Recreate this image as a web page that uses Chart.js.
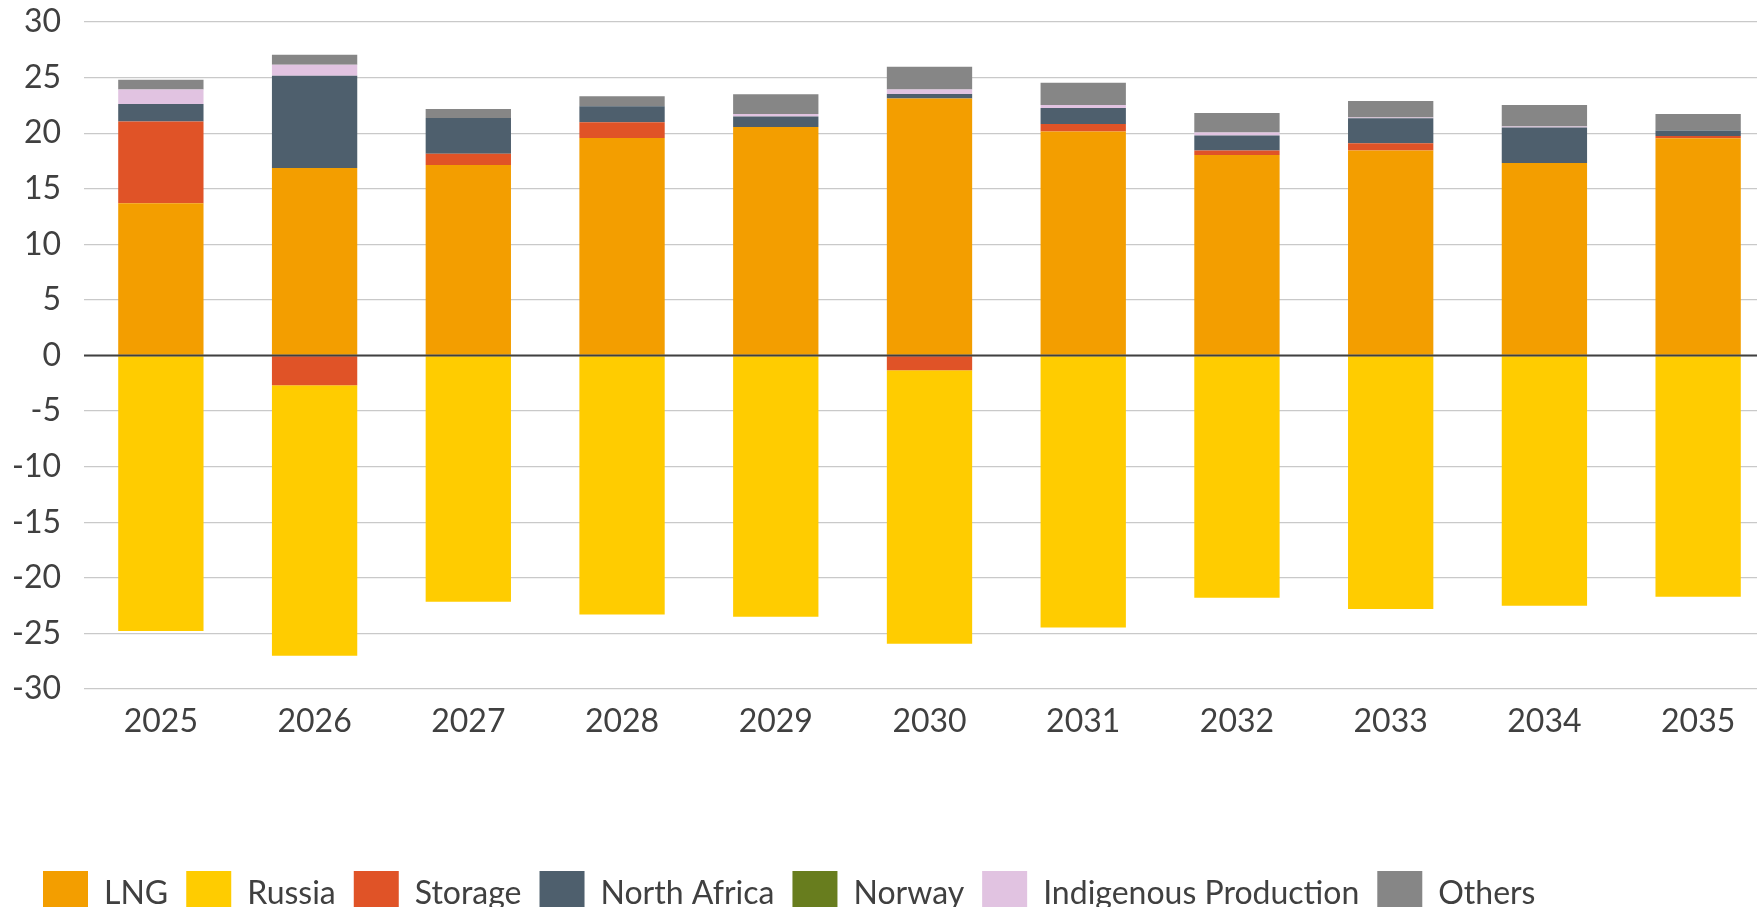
<!DOCTYPE html>
<html>
<head>
<meta charset="utf-8">
<script src="https://cdn.jsdelivr.net/npm/chart.js@4.4.1/dist/chart.umd.min.js"></script>
<style>
  html, body { margin: 0; padding: 0; background: #fff; overflow: hidden; }
  #wrap { width: 1775px; height: 926px; position: relative; }
</style>
</head>
<body>
<div id="wrap"><canvas id="balanceChart"></canvas></div>
<script>
  const years = ["2025", "2026", "2027", "2028", "2029", "2030", "2031", "2032", "2033", "2034", "2035"];
  const yTicks = [-30, -25, -20, -15, -10, -5, 0, 5, 10, 15, 20, 25, 30];

  const lng = [13.7, 16.86, 17.13, 19.57, 20.56, 23.11, 20.14, 18.03, 18.43, 17.31, 19.54];
  const russia = [-24.78, -24.32, -22.15, -23.3, -23.5, -24.62, -24.47, -21.79, -22.81, -22.51, -21.7];
  const storage = [7.34, -2.68, 1.02, 1.41, 0, -1.32, 0.69, 0.42, 0.66, 0, 0.21];
  const northAfrica = [1.59, 8.3, 3.22, 1.44, 0.93, 0.42, 1.44, 1.33, 2.25, 3.19, 0.48];
  const norway = [0, 0, 0, 0, 0, 0, 0, 0, 0, 0, 0];
  const indigenous = [1.3, 0.99, 0, 0, 0.24, 0.4, 0.27, 0.27, 0.06, 0.09, 0];
  const others = [0.87, 0.9, 0.81, 0.9, 1.77, 2.04, 1.99, 1.77, 1.5, 1.95, 1.5];

  const textColor = "#404040";
  const fontSize = 32;

  // zero line sits on top of the bars in the original
  const zeroLine = {
    id: "zeroLine",
    afterDatasetsDraw(chart) {
      const y = chart.scales.y.getPixelForValue(0);
      const ctx = chart.ctx;
      ctx.save();
      ctx.strokeStyle = "#404040";
      ctx.lineWidth = 1.8;
      ctx.beginPath();
      ctx.moveTo(chart.chartArea.left, y);
      ctx.lineTo(chart.chartArea.right, y);
      ctx.stroke();
      ctx.restore();
    },
  };

  // legend row starts a bit further right than the y labels
  const legendShift = {
    id: "legendShift",
    afterLayout(chart) {
      if (chart.legend) {
        chart.legend.left += 15;
        chart.legend.right += 15;
      }
    },
  };

  const ctx = document.getElementById("balanceChart").getContext("2d");

  const balanceChart = new Chart(ctx, {
    type: "bar",
    data: {
      labels: years,
      datasets: [
        { label: "LNG", data: lng, backgroundColor: "#F39E00", order: 0 },
        { label: "Russia", data: russia, backgroundColor: "#FFCC00", order: 2 },
        { label: "Storage", data: storage, backgroundColor: "#E05327", order: 1 },
        { label: "North Africa", data: northAfrica, backgroundColor: "#4E5F6D", order: 3 },
        { label: "Norway", data: norway, backgroundColor: "#687D1E", order: 4 },
        { label: "Indigenous Production", data: indigenous, backgroundColor: "#E1C3E1", order: 5 },
        { label: "Others", data: others, backgroundColor: "#868686", order: 6 },
      ],
    },
    options: {
      responsive: true,
      maintainAspectRatio: false,
      animation: false,
      barPercentage: 0.555,
      categoryPercentage: 1,
      borderWidth: 0,
      layout: {
        padding: { left: 10, top: 22, right: 0, bottom: 0 },
      },
      scales: {
        x: {
          stacked: true,
          grid: { display: false },
          border: { display: false },
          ticks: {
            color: textColor,
            padding: 5,
            font: { family: "Lato", size: fontSize },
          },
          afterFit(scale) {
            scale.height = 164;
          },
        },
        y: {
          stacked: true,
          min: -30,
          max: 30,
          afterBuildTicks(scale) {
            scale.ticks = yTicks.map((v) => ({ value: v }));
          },
          grid: {
            color: "#c9c9c9",
            lineWidth: 1.3,
            drawTicks: false,
          },
          border: { display: false },
          ticks: {
            color: textColor,
            padding: 23,
            font: { family: "Lato", size: fontSize },
          },
          afterFit(scale) {
            scale.width = 74;
            scale.paddingTop = 0;
            scale.paddingBottom = 0;
          },
        },
      },
      plugins: {
        legend: {
          position: "bottom",
          align: "start",
          labels: {
            boxWidth: 45,
            boxHeight: 45,
            padding: 18,
            color: textColor,
            font: { family: "Lato", size: fontSize },
            sort: (a, b) => a.datasetIndex - b.datasetIndex,
          },
        },
        tooltip: { enabled: false },
      },
    },
    plugins: [zeroLine, legendShift],
  });
</script>
</body>
</html>
